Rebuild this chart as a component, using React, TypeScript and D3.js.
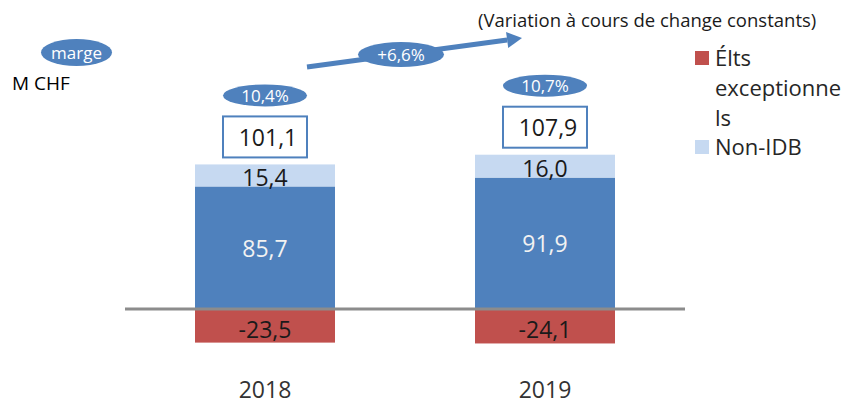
import * as React from 'react'
import {select, scaleBand, scaleLinear} from 'd3'

const {useRef, useEffect} = React

// données (M CHF)
const years = ['2018', '2019']
const idb = [85.7, 91.9]
const nonIdb = [15.4, 16.0]
const exceptionnels = [-23.5, -24.1]
const totals = [101.1, 107.9]
const margins = ['10,4%', '10,7%']
const variation = '+6,6%'
const legendLines = [['Élts', 'exceptionne', 'ls'], ['Non-IDB']]

const BLUE = '#4f81bd'
const LIGHT = '#c6d9f1'
const RED = '#c0504d'
const FONT = '"Open Sans", sans-serif'

const fmt = (v: number) => v.toFixed(1).replace('.', ',')

export default function App() {
  const ref = useRef<SVGSVGElement>(null)

  useEffect(() => {
    const svg = select(ref.current)
    svg.selectAll('*').remove()

    const x = scaleBand().domain(years).range([55, 755]).paddingInner(0.5).paddingOuter(0.5)
    const y = scaleLinear().domain([-40, 120]).range([366.2, 137.4])
    const bw = x.bandwidth()

    const g = svg.append('g')

    years.forEach((yr, i) => {
      const x0 = x(yr) as number
      const cx = x0 + bw / 2
      const segs = [
        {y0: 0, y1: idb[i], fill: BLUE, label: idb[i], color: '#f2f2f2'},
        {y0: idb[i], y1: idb[i] + nonIdb[i], fill: LIGHT, label: nonIdb[i], color: '#1a1a1a', dy: 2},
        {y0: exceptionnels[i], y1: 0, fill: RED, label: exceptionnels[i], color: '#1a1a1a', dy: 3},
      ]
      segs.forEach(s => {
        g.append('rect')
          .attr('x', x0).attr('width', bw)
          .attr('y', y(s.y1)).attr('height', y(s.y0) - y(s.y1))
          .attr('fill', s.fill)
        g.append('text')
          .attr('x', cx).attr('y', (y(s.y0) + y(s.y1)) / 2 + (s.dy || 0))
          .attr('text-anchor', 'middle').attr('dominant-baseline', 'central')
          .attr('font-family', FONT).attr('font-size', 23).attr('fill', s.color)
          .text(fmt(s.label))
      })

      // total dans un cadre
      const boxBottom = y(totals[i]) - 7
      g.append('rect')
        .attr('x', cx - 42).attr('y', boxBottom - 41)
        .attr('width', 84).attr('height', 41)
        .attr('fill', '#fff').attr('stroke', BLUE).attr('stroke-width', 2)
      g.append('text')
        .attr('x', cx + 3).attr('y', boxBottom - 20.5)
        .attr('text-anchor', 'middle').attr('dominant-baseline', 'central')
        .attr('font-family', FONT).attr('font-size', 23).attr('fill', '#1a1a1a')
        .text(fmt(totals[i]))

      // marge
      const ey = boxBottom - 41 - 21
      g.append('ellipse').attr('cx', cx).attr('cy', ey).attr('rx', 42).attr('ry', 11).attr('fill', BLUE)
      g.append('text')
        .attr('x', cx).attr('y', ey)
        .attr('text-anchor', 'middle').attr('dominant-baseline', 'central')
        .attr('font-family', FONT).attr('font-size', 17).attr('fill', '#fff')
        .text(margins[i])

      // année
      g.append('text')
        .attr('x', cx).attr('y', 398)
        .attr('text-anchor', 'middle')
        .attr('font-family', FONT).attr('font-size', 23).attr('fill', '#333')
        .text(yr)
    })

    // ligne du zéro
    const first = x(years[0]) as number
    const last = (x(years[years.length - 1]) as number) + bw
    g.append('line')
      .attr('x1', first - bw / 2).attr('x2', last + bw / 2)
      .attr('y1', y(0)).attr('y2', y(0))
      .attr('stroke', '#8c8c8c').attr('stroke-width', 3)

    // flèche de variation
    const ax1 = (x(years[0]) as number) + bw / 2 + 42, ay1 = 67
    const ax2 = (x(years[1]) as number) + bw / 2 - 23, ay2 = 38
    const ang = Math.atan2(ay2 - ay1, ax2 - ax1)
    const hl = 15, hw = 8
    const bx = ax2 - hl * Math.cos(ang), by = ay2 - hl * Math.sin(ang)
    g.append('line')
      .attr('x1', ax1).attr('y1', ay1).attr('x2', bx).attr('y2', by)
      .attr('stroke', BLUE).attr('stroke-width', 5)
    g.append('path')
      .attr('d', `M${ax2},${ay2}L${bx + hw * Math.sin(ang)},${by - hw * Math.cos(ang)}L${bx - hw * Math.sin(ang)},${by + hw * Math.cos(ang)}Z`)
      .attr('fill', BLUE)
    g.append('ellipse').attr('cx', 401).attr('cy', 54.5).attr('rx', 43).attr('ry', 12.5).attr('fill', BLUE)
    g.append('text')
      .attr('x', 401).attr('y', 54.5)
      .attr('text-anchor', 'middle').attr('dominant-baseline', 'central')
      .attr('font-family', FONT).attr('font-size', 17).attr('fill', '#fff')
      .text(variation)

    g.append('text')
      .attr('x', 478).attr('y', 27)
      .attr('font-family', FONT).attr('font-size', 18.5).attr('fill', '#1a1a1a')
      .text('(Variation à cours de change constants)')

    // marge / unité
    g.append('ellipse').attr('cx', 76.5).attr('cy', 52.5).attr('rx', 35.5).attr('ry', 13.5).attr('fill', BLUE)
    g.append('text')
      .attr('x', 76.5).attr('y', 52.5)
      .attr('text-anchor', 'middle').attr('dominant-baseline', 'central')
      .attr('font-family', FONT).attr('font-size', 17).attr('fill', '#fff')
      .text('marge')
    g.append('text')
      .attr('x', 12).attr('y', 90)
      .attr('font-family', FONT).attr('font-size', 19).attr('fill', '#000')
      .text('M CHF')

    // légende
    const legendColors = [RED, LIGHT]
    const legendTop = [66, 155]
    legendLines.forEach((lines, k) => {
      g.append('rect')
        .attr('x', 695).attr('y', legendTop[k] - 15)
        .attr('width', 14).attr('height', 14)
        .attr('fill', legendColors[k])
      lines.forEach((t, j) => {
        g.append('text')
          .attr('x', 715).attr('y', legendTop[k] + j * 30)
          .attr('font-family', FONT).attr('font-size', 22).attr('fill', '#262626')
          .text(t)
      })
    })
  }, [])

  return (
    <svg ref={ref} width={851} height={404}
      style={{position: 'absolute', left: 0, top: 0, background: '#fff'}} />
  )
}
